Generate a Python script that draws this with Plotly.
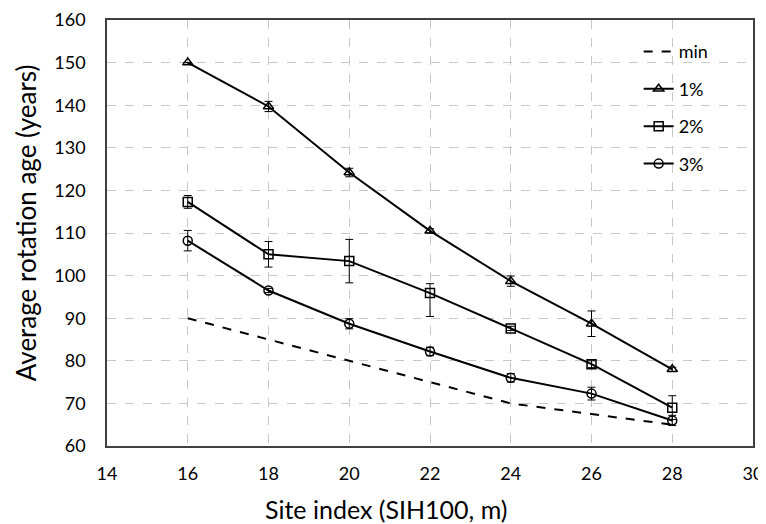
import plotly.graph_objects as go

site_index = [16, 18, 20, 22, 24, 26, 28]

min_age = [90, 85, 80, 75, 70, 67.5, 65]

r1 = [150, 139.7, 124.2, 110.5, 98.7, 88.7, 78]
r1_err_plus = [0, 1.2, 1.0, 0.5, 1.2, 3.0, 0.5]
r1_err_minus = [0, 1.2, 1.0, 0.5, 1.2, 3.0, 0.5]

r2 = [117.3, 105.0, 103.4, 95.9, 87.6, 79.2, 69.0]
r2_err_plus = [1.5, 3.0, 5.1, 2.2, 0.5, 0.8, 2.8]
r2_err_minus = [1.5, 3.0, 5.1, 5.5, 0.5, 0.8, 2.8]

r3 = [108.2, 96.5, 88.7, 82.2, 76.0, 72.3, 66.0]
r3_err_plus = [2.4, 0.5, 1.2, 1.0, 1.0, 1.5, 1.2]
r3_err_minus = [2.4, 0.5, 1.2, 1.0, 1.0, 1.5, 1.2]

x_title = "Site index (SIH100, m)"
y_title = "Average rotation age (years)"

FONT = "Lato, 'Open Sans', sans-serif"

fig = go.Figure()

fig.add_trace(go.Scatter(
    x=site_index, y=min_age, mode="lines", name="min", legendgroup="a",
    line=dict(color="black", width=2, dash="dash"),
))

def add_series(y, ep, em, name, symbol, grp):
    fig.add_trace(go.Scatter(
        x=site_index, y=y, mode="lines+markers", name=name, legendgroup=grp,
        line=dict(color="black", width=2),
        marker=dict(symbol=symbol, size=9, color="black",
                    line=dict(color="black", width=1.5)),
        error_y=dict(type="data", symmetric=False, array=ep, arrayminus=em,
                     color="black", thickness=1, width=4),
    ))

add_series(r1, r1_err_plus, r1_err_minus, "1%", "triangle-up-open", "b")
add_series(r2, r2_err_plus, r2_err_minus, "2%", "square-open", "c")
add_series(r3, r3_err_plus, r3_err_minus, "3%", "circle-open", "d")

# page body adds an 8px margin, so the figure is sized 8px smaller each way
fig.update_layout(
    width=758, height=516,
    margin=dict(l=99, r=13, t=12, b=78, autoexpand=False),
    paper_bgcolor="white", plot_bgcolor="white",
    font=dict(family=FONT, size=18, color="black"),
    showlegend=True,
    legend=dict(x=0.823, y=0.969, xanchor="left", yanchor="top",
                bgcolor="rgba(255,255,255,0)", font=dict(size=18),
                traceorder="grouped", tracegroupgap=11),
    annotations=[
        dict(text=x_title, xref="paper", yref="paper", x=0.433, y=-0.148,
             xanchor="center", yanchor="middle", showarrow=False,
             font=dict(size=25)),
        dict(text=y_title, xref="paper", yref="paper", x=-0.125, y=0.5235,
             xanchor="center", yanchor="middle", showarrow=False,
             textangle=-90, font=dict(size=26)),
    ],
)

fig.update_xaxes(
    range=[14, 30], dtick=2, tick0=14,
    showgrid=True, gridcolor="#c8c8c8", griddash="dash", gridwidth=1,
    showline=True, linecolor="#404040", linewidth=1.5, mirror=True,
    ticks="", zeroline=False, ticklabelstandoff=11, automargin=False,
    tickfont=dict(size=18),
)
fig.update_yaxes(
    range=[60, 160], dtick=10,
    showgrid=True, gridcolor="#c8c8c8", griddash="dash", gridwidth=1,
    showline=True, linecolor="#404040", linewidth=1.5, mirror=True,
    ticks="", zeroline=False, ticklabelstandoff=16, automargin=False,
    tickfont=dict(size=18),
)

fig.write_html("out.html")
